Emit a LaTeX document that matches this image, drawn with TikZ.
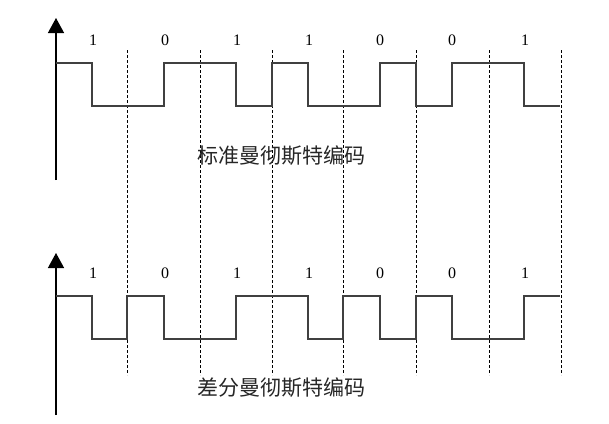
\documentclass[tikz,border=0pt]{standalone}
\usepackage{fontspec}
\setmainfont{Liberation Serif}
\newfontfamily\cjk{Noto Sans CJK SC}
\usetikzlibrary{arrows.meta}
\begin{document}
\begin{tikzpicture}[x=1pt,y=-1pt,
  axisline/.style={line width=1.4pt,black,-{Triangle[width=16pt,length=15pt]}},
  wave/.style={line width=1.6pt,black!75,line join=miter},
  bitline/.style={line width=1pt,black,dash pattern=on 3pt off 2pt},
  bitlabel/.style={font=\fontsize{16}{16}\selectfont,inner sep=0pt},
  title/.style={font=\cjk\fontsize{21}{21}\selectfont,inner sep=0pt,text=black!85}]
\useasboundingbox (0,0) rectangle (609,423);
% bit boundaries
\foreach \x [count=\i] in {127,200,272,343,416,489,561}
  \draw[bitline] (\x,50) coordinate (bt\i) -- (\x,375) coordinate (bb\i);
% axes
\coordinate (a1s) at (56,180); \coordinate (a1e) at (56,18);
\coordinate (a2s) at (56,415); \coordinate (a2e) at (56,253);
\draw[axisline] (a1s) -- (a1e);
\draw[axisline] (a2s) -- (a2e);
% standard Manchester
\draw[wave] (56,63) -- (92,63) -- (92,106) -- (164,106) -- (164,63) -- (236,63) -- (236,106) -- (272,106) -- (272,63) -- (308,63) -- (308,106) -- (380,106) -- (380,63) -- (416,63) -- (416,106) -- (452,106) -- (452,63) -- (524,63) -- (524,106) -- (560,106);
% differential Manchester
\draw[wave] (56,296) -- (92,296) -- (92,339) -- (127,339) -- (127,296) -- (164,296) -- (164,339) -- (236,339) -- (236,296) -- (308,296) -- (308,339) -- (343,339) -- (343,296) -- (380,296) -- (380,339) -- (416,339) -- (416,296) -- (452,296) -- (452,339) -- (524,339) -- (524,296) -- (560,296);
% bit labels
\foreach \x/\b [count=\i] in {93/1,165/0,237/1,309/1,380/0,452/0,525/1}{
  \node[bitlabel] (ta\i) at (\x,40) {\b};
  \node[bitlabel] (tb\i) at (\x,273) {\b};
}
\node[title] (t1) at (281,156) {标准曼彻斯特编码};
\node[title] (t2) at (281,388) {差分曼彻斯特编码};
\end{tikzpicture}
\end{document}
